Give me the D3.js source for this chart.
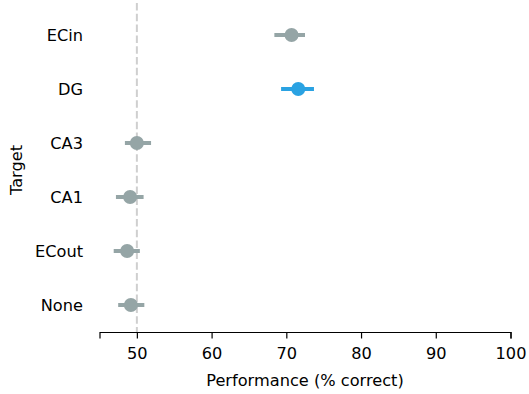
<!DOCTYPE html>
<html><head><meta charset="utf-8">
<script src="https://cdn.jsdelivr.net/npm/d3@7"></script>
<style>body{margin:0;background:#fff}svg{display:block}text{font-family:"DejaVu Sans",sans-serif;fill:#000}</style>
</head><body><svg id="c" width="529" height="394"></svg>
<script>
const categories = ["ECin","DG","CA3","CA1","ECout","None"];
const means = [70.7, 71.6, 50.0, 49.1, 48.7, 49.2];
const lows  = [68.4, 69.3, 48.4, 47.2, 46.9, 47.5];
const highs = [72.5, 73.7, 51.9, 50.9, 50.4, 51.0];
const highlight = ["DG"];
const xTicks = [50,60,70,80,90,100];
const chanceLevel = 50;
const FS = "16.2px";

const svg = d3.select("#c");
const x = d3.scaleLinear().domain([45,100]).range([99.5,510.5]);
const y = d3.scaleBand().domain(categories).range([8,332]);
const cy = c => y(c) + y.bandwidth()/2;
const col = c => highlight.includes(c) ? "#2aa2e2" : "#95a5a6";

// chance line
svg.append("line").attr("x1",x(chanceLevel)).attr("x2",x(chanceLevel))
  .attr("y1",3).attr("y2",332).attr("stroke","#cfcfcf").attr("stroke-width",2)
  .attr("stroke-dasharray","7.5,3.3");

// x axis
const xa = svg.append("g").attr("transform","translate(0,332)")
  .call(d3.axisBottom(x).tickValues(xTicks).tickSize(6.5).tickPadding(8.5));
xa.select(".domain").attr("stroke","#000").attr("stroke-width",1.2);
xa.selectAll(".tick line").attr("stroke","#000").attr("stroke-width",1.2);
xa.selectAll("text").attr("font-size",FS).attr("font-family","DejaVu Sans");

// y labels
svg.append("g").selectAll("text").data(categories).join("text")
  .attr("x",83).attr("y",d=>cy(d)).attr("dy","0.36em").attr("text-anchor","end")
  .attr("font-size",FS).text(d=>d);

// error bars
const data = categories.map((c,i)=>({c,m:means[i],lo:lows[i],hi:highs[i]}));
svg.append("g").selectAll("line").data(data).join("line")
  .attr("x1",d=>x(d.lo)).attr("x2",d=>x(d.hi)).attr("y1",d=>cy(d.c)).attr("y2",d=>cy(d.c))
  .attr("stroke",d=>col(d.c)).attr("stroke-width",4);
svg.append("g").selectAll("circle").data(data).join("circle")
  .attr("cx",d=>x(d.m)).attr("cy",d=>cy(d.c)).attr("r",7).attr("fill",d=>col(d.c));

// axis titles
svg.append("text").attr("x",305).attr("y",386).attr("text-anchor","middle")
  .attr("font-size",FS).text("Performance (% correct)");
svg.append("text").attr("transform","translate(22,170) rotate(-90)").attr("text-anchor","middle")
  .attr("font-size",FS).text("Target");
</script></body></html>
